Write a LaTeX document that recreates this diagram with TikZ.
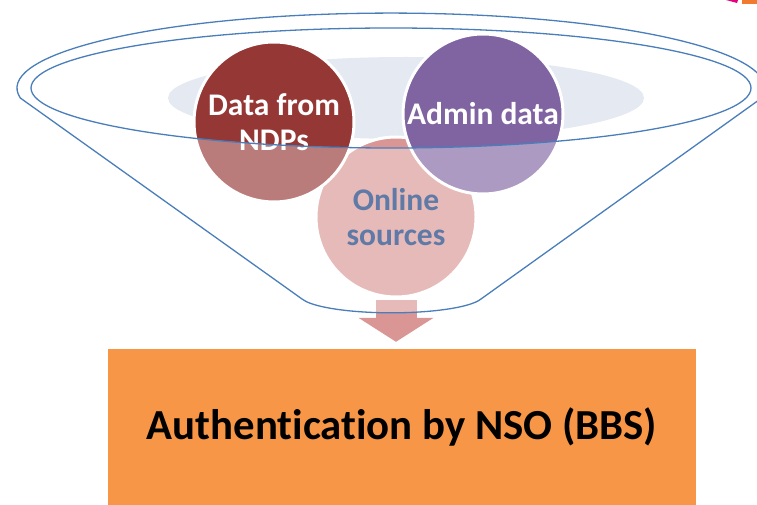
\documentclass[tikz,border=0pt]{standalone}
\usepackage{fontspec}
\setmainfont[Ligatures=NoCommon]{Carlito}
\usetikzlibrary{arrows.meta}

\definecolor{ndpred}{HTML}{953735}
\definecolor{adminpurple}{HTML}{8064A2}
\definecolor{onlinepink}{HTML}{D99694}
\definecolor{onlineblue}{HTML}{5F7AA6}
\definecolor{backgray}{HTML}{E4E9F2}
\definecolor{funnelblue}{HTML}{4A7EBB}
\definecolor{authorange}{HTML}{F79646}
\definecolor{cornerpink}{HTML}{E5007D}
\definecolor{cornerorange}{HTML}{F07A2E}

\begin{document}
\begin{tikzpicture}[x=1pt,y=-1pt]

\tikzstyle{every node}=[font=\bfseries]
\tikzstyle{bubble}=[circle, minimum size=160pt, inner sep=0pt, draw=white,
	line width=3pt, text=white, align=center,
	font=\fontsize{31.5}{35}\selectfont\bfseries]
\tikzstyle{box}=[fill=authorange, minimum width=588pt, minimum height=156pt,
	inner sep=0pt, font=\fontsize{42.8}{50}\selectfont\bfseries]
\tikzstyle{fatarrow}=[-{Triangle[width=74pt,length=24pt]}, line width=41pt,
	draw=onlinepink, shorten <=1pt, shorten >=7pt]
\tikzstyle{rim}=[draw=funnelblue, line width=1.3pt]

\useasboundingbox (0,0) rectangle (757,505);

\fill[backgray] (406,98) ellipse [x radius=238, y radius=41];

\node[bubble, fill=onlinepink] (online) at (396,217) {};
\node[bubble, fill=ndpred] (ndp) at (274,122) {Data from\\NDPs};
\node[bubble, fill=adminpurple] (admin) at (483,114) {Admin data};

\node[box] (auth) at (402,427) {Authentication by NSO (BBS)};

\draw[fatarrow] (online.south) -- (online.south |- auth.north);

% front of the funnel
\fill[white, opacity=0.35] (31,88)
	arc [start angle=180, end angle=0, x radius=360, y radius=60]
	-- (761.7,98) -- (481,299)
	arc [start angle=13.4, end angle=166.6, x radius=92, y radius=18]
	-- (20.3,98) -- cycle;

\node[font=\fontsize{31.5}{35}\selectfont\bfseries, text=onlineblue,
	align=center] (sources) at (online) {Online\\sources};

\draw[rim] (391,88) ellipse [x radius=360, y radius=60];
\draw[rim] (20.3,98)
	arc [start angle=172.4, end angle=367.6, x radius=374, y radius=75]
	-- (481,299)
	arc [start angle=13.4, end angle=166.6, x radius=92, y radius=18]
	-- cycle;

\fill[cornerpink] (726,0) -- (738,0) -- (737,3) -- cycle;
\fill[cornerorange] (742,0) rectangle (757,4);
%\draw[help lines] (0,0) grid[step=50] (757,505);
\end{tikzpicture}
\end{document}
